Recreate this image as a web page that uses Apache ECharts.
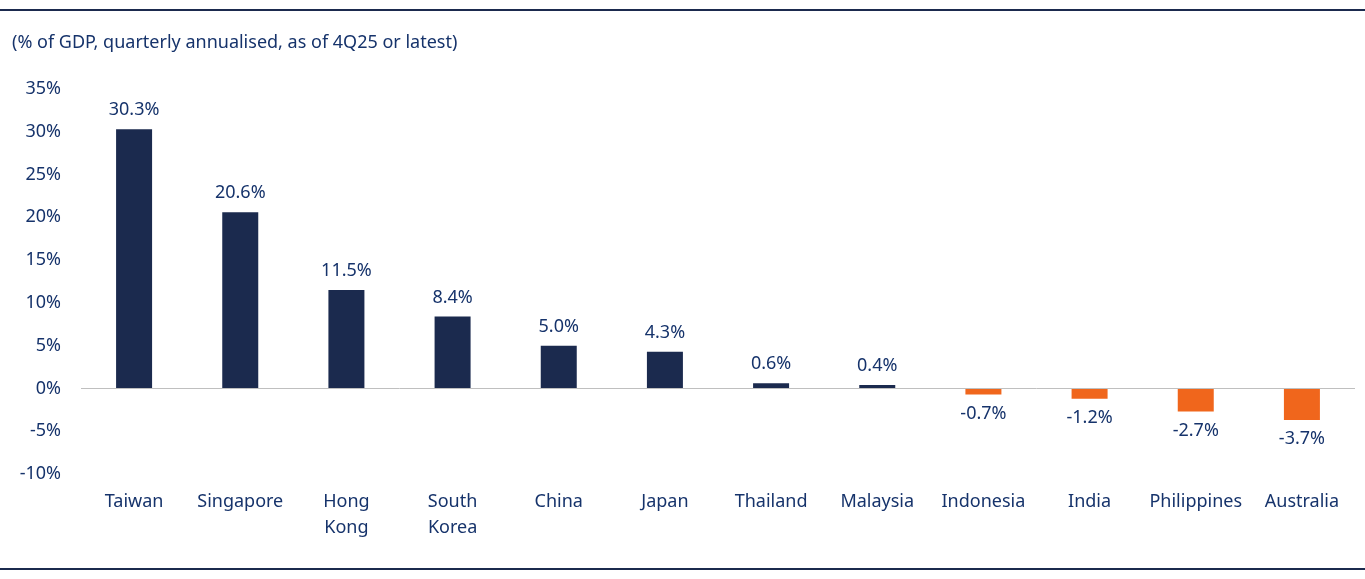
<!DOCTYPE html>
<html>
<head>
<meta charset="utf-8">
<script src="https://cdn.jsdelivr.net/npm/echarts@6/dist/echarts.min.js"></script>
<style>
  html, body { margin: 0; padding: 0; background: #fff; }
  #chart { width: 1365px; height: 579px; }
</style>
</head>
<body>
<div id="chart"></div>
<script>
const categories = ["Taiwan", "Singapore", "Hong\nKong", "South\nKorea", "China", "Japan",
  "Thailand", "Malaysia", "Indonesia", "India", "Philippines", "Australia"];
const values = [30.3, 20.6, 11.5, 8.4, 5.0, 4.3, 0.6, 0.4, -0.7, -1.2, -2.7, -3.7];

const navy = "#1b2a4e";
const orange = "#f0661c";
const textColor = "#16336b";
const font = "Noto Sans";

const chart = echarts.init(document.getElementById("chart"));
chart.setOption({
  animation: false,
  textStyle: { fontFamily: font },
  graphic: [
    { type: "rect", shape: { x: 0, y: 9, width: 1365, height: 2 }, style: { fill: navy } },
    { type: "rect", shape: { x: 0, y: 568, width: 1365, height: 2 }, style: { fill: navy } },
    { type: "text", left: 12, top: 34,
      style: { text: "(% of GDP, quarterly annualised, as of 4Q25 or latest)",
        font: "18px '" + font + "'", fill: textColor } }
  ],
  grid: { left: 81, right: 10, top: 89, bottom: 105, containLabel: false },
  xAxis: {
    type: "category",
    data: categories,
    axisLine: { show: false },
    axisTick: { show: false },
    axisLabel: { color: textColor, fontSize: 18, fontFamily: font, lineHeight: 26,
      interval: 0, margin: 15, verticalAlign: "top" },
    position: "bottom"
  },
  yAxis: {
    type: "value",
    min: -10, max: 35, interval: 5,
    splitLine: { show: false },
    axisLine: { show: false },
    axisTick: { show: false },
    axisLabel: { color: textColor, fontSize: 18, fontFamily: font, margin: 20,
      formatter: v => v + "%" }
  },
  series: [{
    type: "bar",
    barWidth: 36,
    data: values.map(v => ({
      value: v,
      itemStyle: { color: v < 0 ? orange : navy },
      label: { position: v < 0 ? "bottom" : "top" }
    })),
    label: {
      show: true,
      color: textColor, fontSize: 18, fontFamily: font,
      distance: 10,
      formatter: p => p.value.toFixed(1) + "%"
    },
    markLine: {
      silent: true, symbol: "none", label: { show: false },
      lineStyle: { color: "#bfbfbf", type: "solid", width: 1 },
      data: [{ yAxis: 0 }]
    }
  }]
});
</script>
</body>
</html>
